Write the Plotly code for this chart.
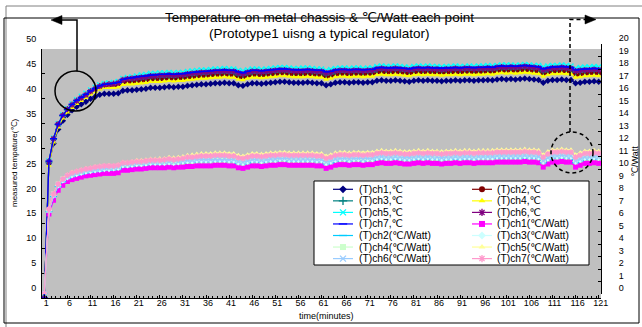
import plotly.graph_objects as go

# ---------------- data ----------------
minutes = list(range(1, 122))
x_tick_values = [1, 6, 11, 16, 21, 26, 31, 36, 41, 46, 51, 56, 61, 66, 71, 76, 81, 86,
                 91, 96, 101, 106, 111, 116, 121]
x_tick_labels = [str(v) for v in x_tick_values]

title_line1 = "Temperature on metal chassis & ℃/Watt each point"
title_line2 = "(Prototype1 uisng a typical regulator)"

temp_names = ["(T)ch1,℃", "(T)ch2,℃", "(T)ch3,℃", "(T)ch4,℃", "(T)ch5,℃", "(T)ch6,℃", "(T)ch7,℃"]
watt_names = ["(T)ch1(℃/Watt)", "(T)ch2(℃/Watt)", "(T)ch3(℃/Watt)", "(T)ch4(℃/Watt)",
              "(T)ch5(℃/Watt)", "(T)ch6(℃/Watt)", "(T)ch7(℃/Watt)"]

temp_ch1 = [0, 27.0, 31.0, 33.9, 35.6, 36.8, 37.7, 38.4, 38.9, 39.4,
            40.0, 40.4, 40.8, 41.0, 41.0, 41.0, 41.1, 41.6, 41.7, 41.7,
            41.8, 41.9, 42.0, 42.2, 42.2, 42.2, 42.3, 42.4, 42.3, 42.4,
            42.4, 42.6, 42.7, 42.8, 42.9, 42.9, 43.0, 43.1, 43.1, 43.2,
            43.1, 43.1, 42.7, 42.6, 42.9, 43.1, 43.1, 43.0, 43.1, 43.2,
            43.3, 43.4, 43.4, 43.3, 43.2, 43.2, 43.2, 43.3, 43.2, 43.1,
            43.1, 42.7, 42.9, 43.2, 43.3, 43.3, 43.2, 43.3, 43.3, 43.2,
            43.3, 43.3, 43.6, 43.7, 43.6, 43.6, 43.7, 43.6, 43.5, 43.4,
            43.6, 43.7, 43.6, 43.7, 43.6, 43.6, 43.5, 43.6, 43.6, 43.7,
            43.6, 43.7, 43.7, 43.6, 43.7, 43.7, 43.8, 43.7, 43.9, 44.0,
            43.9, 44.0, 43.9, 44.0, 44.1, 44.0, 43.9, 43.8, 43.2, 43.6,
            43.8, 43.8, 43.9, 43.8, 43.8, 43.1, 43.2, 43.4, 43.4, 43.5,
            43.4]
temp_ch2 = [0, 27.3, 32.0, 34.9, 36.6, 37.7, 38.6, 39.4, 40.0, 40.6,
            41.3, 41.8, 42.3, 42.6, 42.7, 42.7, 42.8, 43.3, 43.4, 43.4,
            43.5, 43.6, 43.7, 43.9, 43.9, 43.9, 44.0, 44.1, 44.0, 44.1,
            44.1, 44.3, 44.4, 44.5, 44.6, 44.6, 44.7, 44.8, 44.8, 44.9,
            44.8, 44.8, 44.4, 44.3, 44.6, 44.8, 44.8, 44.7, 44.8, 44.9,
            45.0, 45.1, 45.1, 45.0, 44.9, 44.9, 44.9, 45.0, 44.9, 44.8,
            44.8, 44.4, 44.6, 44.9, 45.0, 45.0, 44.9, 45.0, 45.0, 44.9,
            45.0, 45.0, 45.3, 45.4, 45.3, 45.3, 45.4, 45.3, 45.2, 45.1,
            45.3, 45.4, 45.3, 45.4, 45.3, 45.3, 45.2, 45.3, 45.3, 45.4,
            45.3, 45.4, 45.4, 45.3, 45.4, 45.4, 45.5, 45.4, 45.6, 45.7,
            45.6, 45.7, 45.6, 45.7, 45.8, 45.7, 45.6, 45.5, 45.0, 45.3,
            45.5, 45.5, 45.6, 45.5, 45.5, 44.8, 44.9, 45.1, 45.1, 45.2,
            45.1]
temp_ch3 = [0, 27.3, 31.9, 34.8, 36.6, 37.8, 38.7, 39.5, 40.1, 40.7,
            41.4, 41.9, 42.4, 42.7, 42.8, 42.9, 43.1, 43.7, 43.8, 43.8,
            43.9, 44.0, 44.1, 44.3, 44.3, 44.3, 44.4, 44.5, 44.4, 44.5,
            44.5, 44.7, 44.8, 44.9, 45.0, 45.0, 45.1, 45.2, 45.2, 45.3,
            45.2, 45.2, 44.8, 44.7, 45.0, 45.2, 45.2, 45.1, 45.2, 45.3,
            45.4, 45.5, 45.5, 45.4, 45.3, 45.3, 45.3, 45.4, 45.3, 45.2,
            45.2, 44.8, 45.0, 45.3, 45.4, 45.4, 45.3, 45.4, 45.4, 45.3,
            45.4, 45.4, 45.7, 45.8, 45.7, 45.7, 45.8, 45.7, 45.6, 45.5,
            45.7, 45.8, 45.7, 45.8, 45.7, 45.7, 45.6, 45.7, 45.7, 45.8,
            45.7, 45.8, 45.8, 45.7, 45.8, 45.8, 45.9, 45.8, 46.0, 46.1,
            46.0, 46.1, 46.0, 46.1, 46.2, 46.1, 46.0, 45.9, 45.4, 45.7,
            45.9, 45.9, 46.0, 45.9, 45.8, 45.3, 45.4, 45.5, 45.5, 45.6,
            45.5]
temp_ch4 = [0, 26.6, 31.3, 34.3, 36.1, 37.3, 38.2, 39.0, 39.6, 40.2,
            40.9, 41.4, 41.9, 42.2, 42.2, 42.2, 42.3, 42.8, 42.9, 42.9,
            43.0, 43.1, 43.2, 43.4, 43.4, 43.4, 43.5, 43.6, 43.5, 43.6,
            43.6, 43.8, 43.9, 44.0, 44.1, 44.1, 44.2, 44.3, 44.3, 44.4,
            44.3, 44.3, 43.9, 43.8, 44.1, 44.3, 44.3, 44.2, 44.3, 44.4,
            44.5, 44.6, 44.6, 44.5, 44.4, 44.4, 44.4, 44.5, 44.4, 44.3,
            44.3, 43.9, 44.1, 44.4, 44.5, 44.5, 44.4, 44.5, 44.5, 44.4,
            44.5, 44.5, 44.8, 44.9, 44.8, 44.8, 44.9, 44.8, 44.7, 44.6,
            44.8, 44.9, 44.8, 44.9, 44.8, 44.8, 44.7, 44.8, 44.8, 44.9,
            44.8, 44.9, 44.9, 44.8, 44.9, 44.9, 45.0, 44.9, 45.1, 45.2,
            45.1, 45.2, 45.1, 45.2, 45.3, 45.2, 45.1, 45.0, 44.5, 44.8,
            45.0, 45.0, 45.1, 45.0, 45.0, 44.3, 44.4, 44.6, 44.6, 44.7,
            44.6]
temp_ch5 = [0, 27.5, 32.1, 35.0, 36.8, 38.0, 39.0, 39.8, 40.5, 41.1,
            41.8, 42.3, 42.8, 43.1, 43.2, 43.3, 43.5, 44.1, 44.3, 44.4,
            44.6, 44.8, 44.9, 45.1, 45.1, 45.2, 45.2, 45.3, 45.2, 45.3,
            45.3, 45.5, 45.6, 45.7, 45.8, 45.8, 45.9, 46.0, 46.0, 46.1,
            46.0, 46.0, 45.7, 45.6, 45.8, 46.0, 46.0, 45.9, 46.0, 46.1,
            46.2, 46.3, 46.3, 46.2, 46.1, 46.1, 46.2, 46.2, 46.1, 46.0,
            46.0, 45.7, 45.9, 46.1, 46.2, 46.2, 46.1, 46.2, 46.2, 46.1,
            46.2, 46.2, 46.5, 46.6, 46.5, 46.5, 46.6, 46.5, 46.4, 46.3,
            46.5, 46.6, 46.5, 46.6, 46.5, 46.5, 46.4, 46.5, 46.5, 46.6,
            46.5, 46.5, 46.6, 46.5, 46.6, 46.6, 46.7, 46.6, 46.7, 46.8,
            46.8, 46.8, 46.7, 46.8, 46.9, 46.8, 46.7, 46.7, 46.4, 46.6,
            46.7, 46.7, 46.8, 46.7, 46.6, 46.1, 46.3, 46.4, 46.4, 46.5,
            46.4]
temp_ch6 = [0, 27.4, 32.0, 34.9, 36.7, 37.9, 38.8, 39.6, 40.2, 40.8,
            41.5, 42.0, 42.5, 42.8, 42.9, 43.0, 43.2, 43.8, 44.0, 44.1,
            44.2, 44.3, 44.4, 44.6, 44.6, 44.7, 44.7, 44.8, 44.7, 44.8,
            44.8, 45.0, 45.1, 45.2, 45.3, 45.3, 45.4, 45.5, 45.5, 45.6,
            45.5, 45.5, 45.2, 45.0, 45.3, 45.5, 45.5, 45.4, 45.5, 45.6,
            45.7, 45.8, 45.8, 45.7, 45.6, 45.6, 45.6, 45.7, 45.6, 45.5,
            45.5, 45.2, 45.3, 45.6, 45.7, 45.7, 45.6, 45.7, 45.7, 45.6,
            45.7, 45.7, 46.0, 46.1, 46.0, 46.0, 46.1, 46.0, 45.9, 45.8,
            46.0, 46.1, 46.0, 46.1, 46.0, 46.0, 45.9, 46.0, 46.0, 46.1,
            46.0, 46.1, 46.1, 46.0, 46.1, 46.1, 46.2, 46.1, 46.3, 46.4,
            46.3, 46.4, 46.3, 46.4, 46.5, 46.4, 46.3, 46.2, 45.8, 46.0,
            46.2, 46.2, 46.3, 46.2, 46.1, 45.6, 45.7, 45.8, 45.8, 45.9,
            45.8]
temp_ch7 = [0, 27.5, 32.0, 34.9, 36.7, 37.9, 38.9, 39.7, 40.3, 40.9,
            41.6, 42.1, 42.6, 42.9, 43.0, 43.1, 43.3, 43.9, 44.1, 44.2,
            44.4, 44.5, 44.6, 44.8, 44.8, 44.9, 44.9, 45.0, 44.9, 45.0,
            45.0, 45.2, 45.3, 45.4, 45.5, 45.5, 45.6, 45.7, 45.7, 45.8,
            45.7, 45.7, 45.4, 45.2, 45.5, 45.7, 45.7, 45.6, 45.7, 45.8,
            45.9, 46.0, 46.0, 45.9, 45.8, 45.8, 45.8, 45.9, 45.8, 45.7,
            45.7, 45.4, 45.5, 45.8, 45.9, 45.9, 45.8, 45.9, 45.9, 45.8,
            45.9, 45.9, 46.2, 46.3, 46.2, 46.2, 46.3, 46.2, 46.1, 46.0,
            46.2, 46.3, 46.2, 46.3, 46.2, 46.2, 46.1, 46.2, 46.2, 46.3,
            46.2, 46.3, 46.3, 46.2, 46.3, 46.3, 46.4, 46.3, 46.5, 46.6,
            46.5, 46.6, 46.5, 46.6, 46.7, 46.6, 46.5, 46.4, 46.0, 46.2,
            46.4, 46.4, 46.5, 46.4, 46.3, 45.8, 45.9, 46.0, 46.0, 46.1,
            46.0]

watt_ch1 = [0, 6.4, 7.5, 8.3, 8.7, 9.0, 9.15, 9.25, 9.35, 9.45,
            9.5, 9.55, 9.6, 9.65, 9.65, 9.65, 9.7, 9.9, 9.9, 9.95,
            10.0, 10.0, 10.05, 10.1, 10.1, 10.1, 10.1, 10.15, 10.1, 10.15,
            10.15, 10.2, 10.2, 10.25, 10.25, 10.25, 10.25, 10.3, 10.3, 10.3,
            10.25, 10.25, 10.1, 10.05, 10.15, 10.25, 10.25, 10.2, 10.25, 10.3,
            10.3, 10.35, 10.35, 10.3, 10.3, 10.3, 10.3, 10.3, 10.3, 10.25,
            10.25, 10.05, 10.15, 10.3, 10.35, 10.35, 10.3, 10.35, 10.35, 10.3,
            10.35, 10.35, 10.45, 10.5, 10.45, 10.45, 10.5, 10.45, 10.4, 10.4,
            10.45, 10.5, 10.45, 10.5, 10.45, 10.45, 10.4, 10.45, 10.45, 10.5,
            10.45, 10.5, 10.5, 10.45, 10.5, 10.5, 10.5, 10.5, 10.55, 10.55,
            10.55, 10.55, 10.55, 10.55, 10.6, 10.55, 10.55, 10.5, 10.15, 10.4,
            10.55, 10.55, 10.6, 10.55, 10.55, 10.15, 10.3, 10.45, 10.45, 10.5,
            10.45]
watt_ch2 = [0, 6.6, 7.8, 8.6, 9.0, 9.25, 9.4, 9.5, 9.6, 9.7,
            9.75, 9.8, 9.85, 9.9, 9.9, 9.95, 10.0, 10.2, 10.2, 10.25,
            10.3, 10.3, 10.35, 10.4, 10.4, 10.4, 10.45, 10.5, 10.45, 10.5,
            10.5, 10.55, 10.55, 10.6, 10.6, 10.6, 10.6, 10.65, 10.65, 10.65,
            10.6, 10.6, 10.45, 10.4, 10.5, 10.6, 10.6, 10.55, 10.6, 10.65,
            10.65, 10.7, 10.7, 10.65, 10.65, 10.65, 10.65, 10.65, 10.65, 10.6,
            10.6, 10.4, 10.5, 10.65, 10.7, 10.7, 10.65, 10.7, 10.7, 10.65,
            10.7, 10.7, 10.8, 10.85, 10.8, 10.8, 10.85, 10.8, 10.75, 10.75,
            10.8, 10.85, 10.8, 10.85, 10.8, 10.8, 10.75, 10.8, 10.8, 10.85,
            10.8, 10.85, 10.85, 10.8, 10.85, 10.85, 10.85, 10.85, 10.9, 10.9,
            10.9, 10.9, 10.9, 10.9, 10.95, 10.9, 10.9, 10.85, 10.5, 10.75,
            10.9, 10.9, 10.95, 10.9, 10.9, 10.5, 10.65, 10.8, 10.8, 10.85,
            10.8]
watt_ch3 = [0, 6.7, 7.9, 8.7, 9.1, 9.35, 9.5, 9.6, 9.7, 9.8,
            9.85, 9.9, 9.95, 10.0, 10.0, 10.05, 10.1, 10.3, 10.3, 10.35,
            10.4, 10.4, 10.45, 10.5, 10.5, 10.5, 10.5, 10.55, 10.5, 10.55,
            10.6, 10.65, 10.65, 10.7, 10.7, 10.7, 10.7, 10.75, 10.75, 10.75,
            10.7, 10.7, 10.55, 10.5, 10.6, 10.7, 10.7, 10.65, 10.7, 10.75,
            10.75, 10.8, 10.8, 10.75, 10.75, 10.75, 10.75, 10.75, 10.75, 10.7,
            10.7, 10.5, 10.6, 10.75, 10.8, 10.8, 10.75, 10.8, 10.8, 10.75,
            10.8, 10.8, 10.9, 10.95, 10.9, 10.9, 10.95, 10.9, 10.85, 10.85,
            10.9, 10.95, 10.9, 10.95, 10.9, 10.9, 10.85, 10.9, 10.9, 10.95,
            10.9, 10.95, 10.95, 10.9, 10.95, 10.95, 10.95, 10.95, 11.0, 11.0,
            11.0, 11.0, 11.0, 11.0, 11.05, 11.0, 11.0, 10.95, 10.6, 10.85,
            11.0, 11.0, 11.05, 11.0, 11.0, 10.6, 10.75, 10.9, 10.9, 10.95,
            10.9]
watt_ch4 = [0, 6.7, 8.0, 8.8, 9.2, 9.45, 9.6, 9.7, 9.8, 9.9,
            9.95, 10.0, 10.05, 10.1, 10.1, 10.15, 10.2, 10.4, 10.4, 10.45,
            10.5, 10.5, 10.55, 10.6, 10.6, 10.6, 10.6, 10.65, 10.6, 10.65,
            10.75, 10.8, 10.8, 10.85, 10.85, 10.85, 10.85, 10.9, 10.9, 10.9,
            10.85, 10.85, 10.7, 10.65, 10.75, 10.85, 10.85, 10.8, 10.85, 10.9,
            10.9, 10.95, 10.95, 10.9, 10.9, 10.9, 10.9, 10.9, 10.9, 10.85,
            10.85, 10.65, 10.75, 10.9, 10.95, 10.95, 10.9, 10.95, 10.95, 10.9,
            10.95, 10.95, 11.05, 11.1, 11.05, 11.05, 11.1, 11.05, 11.0, 11.0,
            11.05, 11.1, 11.05, 11.1, 11.05, 11.05, 11.0, 11.05, 11.05, 11.1,
            11.05, 11.1, 11.1, 11.05, 11.1, 11.1, 11.1, 11.1, 11.15, 11.15,
            11.15, 11.15, 11.15, 11.15, 11.2, 11.15, 11.15, 11.1, 10.75, 11.0,
            11.15, 11.15, 11.2, 11.15, 11.15, 10.75, 10.9, 11.05, 11.05, 11.1,
            11.05]
watt_ch5 = [0, 6.8, 8.0, 8.8, 9.25, 9.55, 9.75, 9.85, 9.95, 10.05,
            10.1, 10.2, 10.25, 10.3, 10.3, 10.3, 10.35, 10.55, 10.55, 10.6,
            10.7, 10.7, 10.75, 10.8, 10.8, 10.85, 10.85, 10.95, 10.9, 10.95,
            11.0, 11.1, 11.15, 11.2, 11.25, 11.25, 11.25, 11.3, 11.3, 11.3,
            11.25, 11.25, 11.1, 11.05, 11.15, 11.25, 11.25, 11.2, 11.25, 11.3,
            11.3, 11.35, 11.35, 11.3, 11.3, 11.3, 11.3, 11.3, 11.3, 11.25,
            11.25, 11.05, 11.15, 11.3, 11.35, 11.35, 11.3, 11.35, 11.35, 11.3,
            11.35, 11.35, 11.45, 11.5, 11.45, 11.45, 11.5, 11.45, 11.4, 11.4,
            11.45, 11.5, 11.45, 11.5, 11.45, 11.45, 11.4, 11.45, 11.45, 11.5,
            11.45, 11.5, 11.5, 11.45, 11.5, 11.5, 11.5, 11.5, 11.55, 11.55,
            11.55, 11.55, 11.55, 11.55, 11.6, 11.55, 11.55, 11.5, 11.15, 11.4,
            11.55, 11.55, 11.6, 11.55, 11.55, 11.15, 11.3, 11.45, 11.45, 11.5,
            11.45]
watt_ch6 = [0, 6.7, 7.9, 8.7, 9.1, 9.4, 9.55, 9.65, 9.75, 9.85,
            9.9, 9.95, 10.0, 10.05, 10.05, 10.1, 10.15, 10.35, 10.35, 10.4,
            10.45, 10.45, 10.5, 10.55, 10.55, 10.55, 10.55, 10.6, 10.55, 10.6,
            10.65, 10.7, 10.7, 10.75, 10.75, 10.75, 10.75, 10.8, 10.8, 10.8,
            10.75, 10.75, 10.6, 10.55, 10.65, 10.75, 10.75, 10.7, 10.75, 10.8,
            10.8, 10.85, 10.85, 10.8, 10.8, 10.8, 10.8, 10.8, 10.8, 10.75,
            10.75, 10.55, 10.65, 10.8, 10.85, 10.85, 10.8, 10.85, 10.85, 10.8,
            10.85, 10.85, 10.95, 11.0, 10.95, 10.95, 11.0, 10.95, 10.9, 10.9,
            10.95, 11.0, 10.95, 11.0, 10.95, 10.95, 10.9, 10.95, 10.95, 11.0,
            10.95, 11.0, 11.0, 10.95, 11.0, 11.0, 11.0, 11.0, 11.05, 11.05,
            11.05, 11.05, 11.05, 11.05, 11.1, 11.05, 11.05, 11.0, 10.65, 10.9,
            11.05, 11.05, 11.1, 11.05, 11.05, 10.65, 10.8, 10.95, 10.95, 11.0,
            10.95]
watt_ch7 = [0, 6.8, 8.0, 8.8, 9.2, 9.5, 9.7, 9.8, 9.9, 10.0,
            10.05, 10.15, 10.2, 10.25, 10.25, 10.25, 10.3, 10.5, 10.5, 10.55,
            10.6, 10.6, 10.65, 10.7, 10.7, 10.7, 10.75, 10.8, 10.75, 10.8,
            10.85, 10.95, 10.95, 11.0, 11.05, 11.05, 11.05, 11.1, 11.1, 11.1,
            11.05, 11.05, 10.9, 10.85, 10.95, 11.05, 11.05, 11.0, 11.05, 11.1,
            11.1, 11.15, 11.15, 11.1, 11.1, 11.1, 11.1, 11.1, 11.1, 11.05,
            11.05, 10.85, 10.95, 11.1, 11.15, 11.15, 11.1, 11.15, 11.15, 11.1,
            11.15, 11.15, 11.25, 11.3, 11.25, 11.25, 11.3, 11.25, 11.2, 11.2,
            11.25, 11.3, 11.25, 11.3, 11.25, 11.25, 11.2, 11.25, 11.25, 11.3,
            11.25, 11.3, 11.3, 11.25, 11.3, 11.3, 11.3, 11.3, 11.35, 11.35,
            11.35, 11.35, 11.35, 11.35, 11.4, 11.35, 11.35, 11.3, 10.95, 11.2,
            11.35, 11.35, 11.4, 11.35, 11.35, 10.95, 11.1, 11.25, 11.25, 11.3,
            11.25]

temp_series = [temp_ch1, temp_ch2, temp_ch3, temp_ch4, temp_ch5, temp_ch6, temp_ch7]
watt_series = [watt_ch1, watt_ch2, watt_ch3, watt_ch4, watt_ch5, watt_ch6, watt_ch7]

# ---------------- styles ----------------
temp_colors = ["#000080", "#800000", "#008080", "#FFFF00", "#00FFFF", "#800080", "#0000FF"]
temp_symbols = ["diamond", "circle", "cross-thin-open", "triangle-up", "x-thin-open",
                "asterisk-open", "line-ew-open"]
watt_colors = ["#FF00FF", "#00CCFF", "#CCFFFF", "#CCFFCC", "#FFFF99", "#99CCFF", "#FF99CC"]
watt_symbols = ["square", "line-ew-open", "diamond", "square", "triangle-up",
                "x-thin-open", "asterisk-open"]

FONT = "Arial, Liberation Sans, DejaVu Sans, sans-serif"
W, H = 642, 327
ML, MR, MT, MB = 42, 41, 44, 29
PLOT_H = H - MT - MB          # 254 px: spans the right axis (44..298)
LEFT_TOP, RIGHT_BOTTOM = 49, 294   # left axis ends at 49 px, right axis starts at 294 px


def px(x):
    return (x - ML) / (W - ML - MR)


def py(y):
    return (H - MB - y) / PLOT_H


def marker_style(symbol, color, size):
    is_open = symbol.endswith("-open")
    return dict(symbol=symbol, size=size, color=color,
                line=dict(color=color, width=1.3 if is_open else 0))


fig = go.Figure()

for name, vals, color, sym in zip(temp_names, temp_series, temp_colors, temp_symbols):
    assert len(vals) == len(minutes), name
    fig.add_trace(go.Scatter(x=minutes, y=vals, name=name, mode="lines+markers",
                             line=dict(color=color, width=1.2),
                             marker=marker_style(sym, color, 5),
                             xaxis="x", yaxis="y", showlegend=False))

for name, vals, color, sym in zip(watt_names, watt_series, watt_colors, watt_symbols):
    assert len(vals) == len(minutes), name
    fig.add_trace(go.Scatter(x=minutes, y=vals, name=name, mode="lines+markers",
                             line=dict(color=color, width=1.2),
                             marker=marker_style(sym, color, 5),
                             xaxis="x", yaxis="y2", showlegend=False))

# ---------------- compact legend (2 columns x 7 rows) ----------------
legend_names = temp_names + watt_names
legend_colors = temp_colors + watt_colors
legend_symbols = temp_symbols + watt_symbols
BOX = (314, 181, 589, 265)
col_line_x = [333, 472]
col_text_x = [357, 495]
row_y0, row_step = 189.3, 11.55

annotations = []
for i, (name, color, sym) in enumerate(zip(legend_names, legend_colors, legend_symbols)):
    c, r = i % 2, i // 2
    yy = row_y0 + r * row_step
    x0 = col_line_x[c]
    fig.add_trace(go.Scatter(x=[x0, x0 + 20], y=[yy, yy], mode="lines",
                             line=dict(color=color, width=1.2), xaxis="x3", yaxis="y3",
                             showlegend=False, hoverinfo="skip"))
    fig.add_trace(go.Scatter(x=[x0 + 10], y=[yy], mode="markers",
                             marker=marker_style(sym, color, 6), xaxis="x3", yaxis="y3",
                             showlegend=False, hoverinfo="skip"))
    annotations.append(dict(x=col_text_x[c], y=yy, xref="x3", yref="y3", text=name,
                            showarrow=False, xanchor="left", yanchor="middle",
                            font=dict(family=FONT, size=10.3, color="black")))

annotations += [
    dict(x=px(319.5), y=py(33), xref="paper", yref="paper", text=title_line2,
         showarrow=False, xanchor="center", yanchor="middle",
         font=dict(family=FONT, size=13.5, color="black")),
    dict(x=px(14), y=py(163), xref="paper", yref="paper", text="measured tempature(℃)",
         textangle=-90, showarrow=False, xanchor="center", yanchor="middle",
         font=dict(family=FONT, size=8, color="black")),
    dict(x=px(635), y=py(162), xref="paper", yref="paper", text="℃/Watt",
         textangle=-90, showarrow=False, xanchor="center", yanchor="middle",
         font=dict(family=FONT, size=9, color="black")),
    dict(x=px(326), y=py(316), xref="paper", yref="paper", text="time(minutes)",
         showarrow=False, xanchor="center", yanchor="middle",
         font=dict(family=FONT, size=9, color="black")),
]

blk = dict(color="black", width=1.5)
dash = dict(color="black", width=1.5, dash="4px,3px")
shapes = [
    # gray plot area and the white legend box (below all traces)
    dict(type="rect", xref="paper", yref="paper", x0=px(42), x1=px(601), y0=py(298), y1=py(49),
         fillcolor="#C0C0C0", line=dict(width=0), layer="below"),
    dict(type="rect", xref="paper", yref="paper", x0=px(BOX[0]), x1=px(BOX[2]),
         y0=py(BOX[3]), y1=py(BOX[1]), fillcolor="white",
         line=dict(color="black", width=1), layer="below"),
    # frames
    dict(type="line", xref="paper", yref="paper", x0=px(6), x1=px(642), y0=py(6), y1=py(6),
         line=dict(color="#808080", width=1)),
    dict(type="line", xref="paper", yref="paper", x0=px(6), x1=px(6), y0=py(6), y1=py(327),
         line=dict(color="#808080", width=1)),
    dict(type="rect", xref="paper", yref="paper", x0=px(4), x1=px(639), y0=py(18), y1=py(323),
         line=dict(color="black", width=1)),
    # callouts
    dict(type="circle", xref="paper", yref="paper", x0=px(55), x1=px(96), y0=py(71), y1=py(111),
         line=blk),
    dict(type="path", xref="paper", yref="paper",
         path=f"M {px(77)},{py(71)} L {px(77)},{py(20)} L {px(61)},{py(20)}", line=blk),
    dict(type="path", xref="paper", yref="paper",
         path=f"M {px(51)},{py(20)} L {px(62)},{py(15.5)} L {px(62)},{py(24.5)} Z",
         fillcolor="black", line=dict(color="black", width=0.5)),
    dict(type="circle", xref="paper", yref="paper", x0=px(551), x1=px(593), y0=py(132), y1=py(173),
         line=dash),
    dict(type="path", xref="paper", yref="paper",
         path=f"M {px(570)},{py(132)} L {px(570)},{py(19.5)} L {px(586)},{py(19.5)}", line=dash),
    dict(type="path", xref="paper", yref="paper",
         path=f"M {px(596)},{py(19.5)} L {px(585)},{py(15)} L {px(585)},{py(24)} Z",
         fillcolor="black", line=dict(color="black", width=0.5)),
]

tickfont = dict(family=FONT, size=9, color="black")
fig.update_layout(
    width=W, height=H, autosize=False,
    margin=dict(l=ML, r=MR, t=MT, b=MB, pad=0),
    paper_bgcolor="white", plot_bgcolor="rgba(0,0,0,0)",
    showlegend=False,
    title=dict(text=title_line1,
               x=319.5 / W, y=1 - 17 / H, xref="container", yref="container",
               xanchor="center", yanchor="middle",
               font=dict(family=FONT, size=13.5, color="black")),
    xaxis=dict(range=[0.5, 121.5], tickmode="array", tickvals=x_tick_values,
               ticktext=x_tick_labels, ticks="inside", ticklen=3, tickcolor="black",
               minor=dict(ticks="inside", ticklen=2, dtick=1, tick0=0.5, tickcolor="black"),
               showline=True, linecolor="black", linewidth=1, showgrid=False,
               zeroline=False, tickfont=tickfont, ticklabelshift=2, ticklabelstandoff=-4,
               anchor="y"),
    yaxis=dict(domain=[0, py(LEFT_TOP)], range=[0, 50], dtick=5, tick0=0,
               ticks="inside", ticklen=3, tickcolor="black", showline=True,
               linecolor="black", linewidth=1, showgrid=False, zeroline=False,
               tickfont=tickfont, ticklabelshift=-10, ticklabelstandoff=3, anchor="x"),
    yaxis2=dict(domain=[py(RIGHT_BOTTOM), 1], range=[0, 20], dtick=1, tick0=0,
                side="right", anchor="x", ticks="inside", ticklen=3, tickcolor="black",
                showline=True, linecolor="black", linewidth=1, showgrid=False,
                zeroline=False, tickfont=tickfont, ticklabelshift=-6,
                ticklabelstandoff=15),
    xaxis3=dict(domain=[px(BOX[0]), px(BOX[2])], range=[BOX[0], BOX[2]], visible=False,
                anchor="y3", fixedrange=True),
    yaxis3=dict(domain=[py(BOX[3]), py(BOX[1])], range=[BOX[3], BOX[1]], visible=False,
                anchor="x3", fixedrange=True),
    annotations=annotations,
    shapes=shapes,
)

fig.write_html("out.html", config={"displayModeBar": False},
               post_script="document.body.style.margin='0';")
